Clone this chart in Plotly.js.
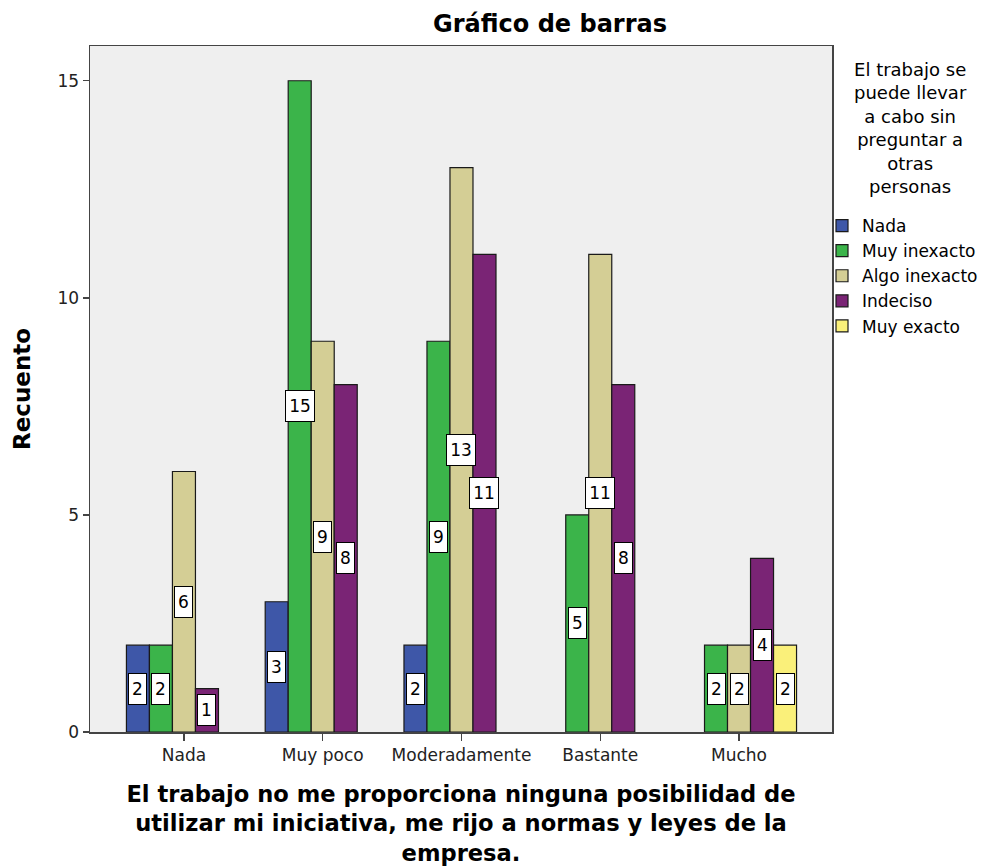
<!DOCTYPE html>
<html>
<head>
<meta charset="utf-8">
<script src="https://cdn.plot.ly/plotly-3.0.1.min.js"></script>
<style>body{margin:0;padding:0;background:#fff;} #chart{width:984px;height:868px;}</style>
</head>
<body>
<div id="chart"></div>
<script>
// Categories on the x axis
const categories = ["Nada", "Muy poco", "Moderadamente", "Bastante", "Mucho"];
// Legend series (response to "El trabajo se puede llevar a cabo sin preguntar a otras personas")
const seriesNames = ["Nada", "Muy inexacto", "Algo inexacto", "Indeciso", "Muy exacto"];
const legendTitle = "El trabajo se<br>puede llevar<br>a cabo sin<br>preguntar a<br>otras<br>personas";
// Counts per series (null = no bar)
const nadaVals        = [2, 3, 2, null, null];
const muyInexactoVals = [2, 15, 9, 5, 2];
const algoInexVals    = [6, 9, 13, 11, 2];
const indecisoVals    = [1, 8, 11, 8, 4];
const muyExactoVals   = [null, null, null, null, 2];
const yTickVals = [0, 5, 10, 15];

const seriesValues = [nadaVals, muyInexactoVals, algoInexVals, indecisoVals, muyExactoVals];
const colors = ["#3E57A8", "#3BB44A", "#D4CE95", "#7A2475", "#FAF07A"];

const bargap = 0.171;
const FONT = "DejaVu Sans, Liberation Sans, Arial, sans-serif";

const traces = seriesNames.map((name, s) => ({
  type: "bar",
  name: name,
  x: categories,
  y: seriesValues[s],
  marker: { color: colors[s], line: { color: "#1a1a1a", width: 1.2 } },
  hoverinfo: "x+y+name"
}));

// Data labels: white boxes in the middle of each bar
const nS = seriesNames.length;
const barW = (1 - bargap) / nS;
const annotations = [];
seriesValues.forEach((vals, s) => {
  vals.forEach((v, i) => {
    if (v === null || v === undefined) return;
    const txt = String(v);
    annotations.push({
      x: i + (s - (nS - 1) / 2) * barW,
      y: v / 2,
      xref: "x", yref: "y",
      text: txt,
      showarrow: false,
      font: { family: FONT, size: 17, color: "#000" },
      bgcolor: "#ffffff",
      bordercolor: "#000000",
      borderwidth: 1,
      borderpad: 3,
      width: txt.length === 1 ? 11 : 22,
      height: 24,
      xanchor: "center", yanchor: "middle"
    });
  });
});

// Legend title, centred above the legend entries
annotations.push({
  xref: "paper", yref: "paper",
  x: 1.106, y: 0.8805,
  xanchor: "center", yanchor: "middle",
  text: legendTitle,
  align: "center",
  showarrow: false,
  font: { family: FONT, size: 18, color: "#000" }
});

const layout = {
  width: 984, height: 868,
  margin: { l: 90, r: 152, t: 46, b: 136, pad: 0, autoexpand: false },
  paper_bgcolor: "#ffffff",
  plot_bgcolor: "#EFEFEF",
  barmode: "group",
  bargap: bargap,
  bargroupgap: 0,
  font: { family: FONT, size: 17, color: "#222" },
  title: {
    text: "<b>Gráfico de barras</b>",
    font: { family: FONT, size: 24, color: "#000" },
    xref: "container", yref: "container",
    x: 0.559, y: 0.9724, xanchor: "center", yanchor: "middle"
  },
  xaxis: {
    type: "category",
    range: [-0.677, 4.67],
    showgrid: false, zeroline: false,
    showline: true, mirror: true, linecolor: "#444", linewidth: 1.5,
    ticks: "outside", ticklen: 7, tickcolor: "#444", tickwidth: 1.5,
    tickfont: { family: FONT, size: 17, color: "#222" },
    title: {
      text: "<b>El trabajo no me proporciona ninguna posibilidad de<br>utilizar mi iniciativa, me rijo a normas y leyes de la<br>empresa.</b>",
      font: { family: FONT, size: 22.6, color: "#000" },
      standoff: 22
    }
  },
  yaxis: {
    range: [0, 15.8],
    tickvals: yTickVals,
    ticktext: yTickVals.map(String),
    showgrid: false, zeroline: false,
    showline: true, mirror: true, linecolor: "#444", linewidth: 1.5,
    ticks: "outside", ticklen: 6, tickcolor: "#444", tickwidth: 1.5,
    tickfont: { family: FONT, size: 17, color: "#222" },
    title: {
      text: "<b>Recuento</b>",
      font: { family: FONT, size: 23, color: "#000" },
      standoff: 20
    }
  },
  legend: {
    xref: "container", yref: "container",
    x: 822 / 984, xanchor: "left",
    y: 1 - 208 / 868, yanchor: "top",
    bgcolor: "rgba(0,0,0,0)",
    borderwidth: 0,
    font: { family: FONT, size: 17, color: "#000" },
    traceorder: "normal"
  },
  annotations: annotations,
  showlegend: true
};

Plotly.newPlot("chart", traces, layout, { displayModeBar: false, staticPlot: true });
</script>
</body>
</html>
